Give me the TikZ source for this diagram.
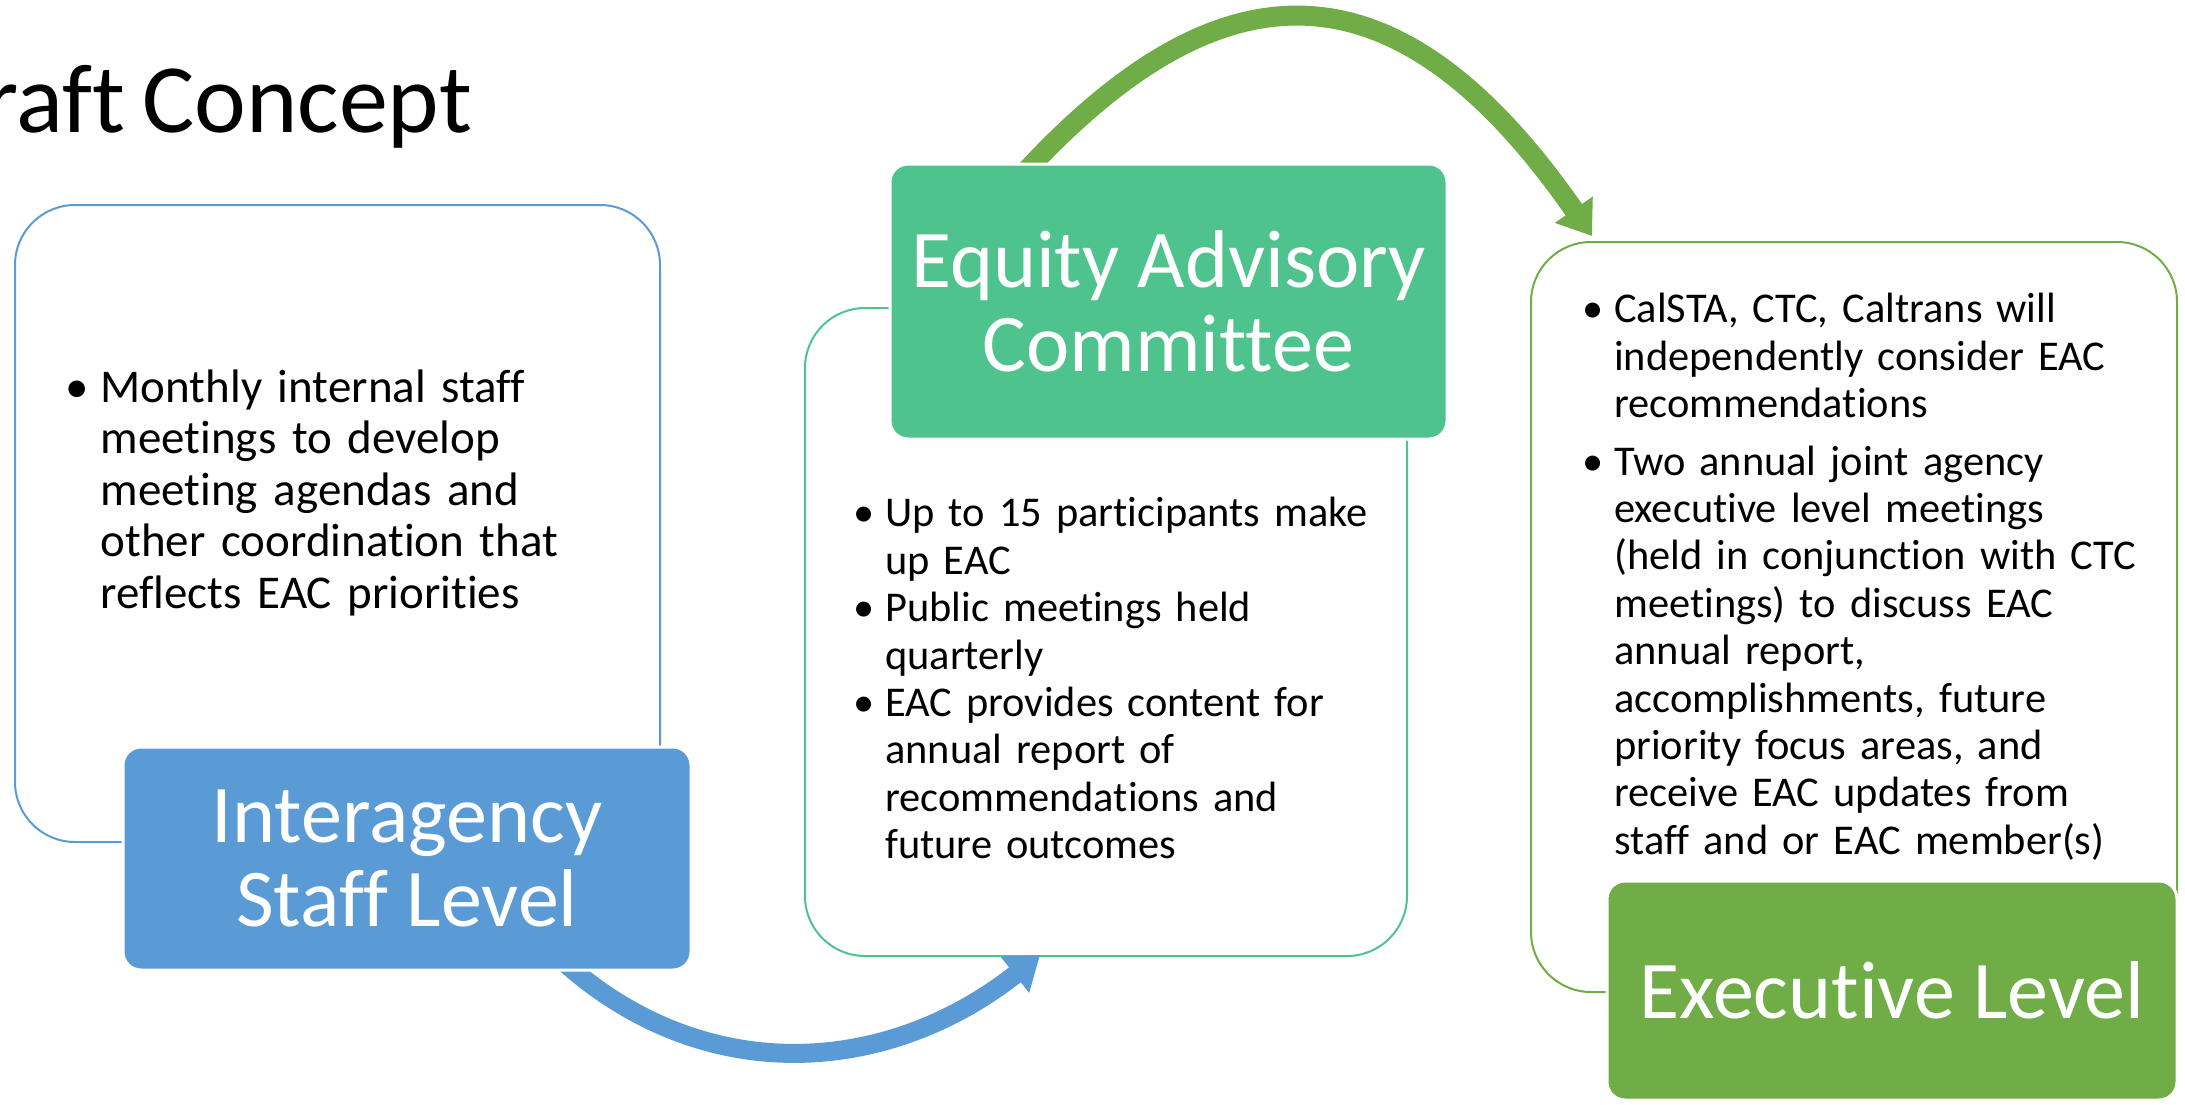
\documentclass[tikz,border=0pt]{standalone}
\usepackage{fontspec}
\setmainfont{Carlito}[Ligatures=CommonOff]
\usetikzlibrary{arrows.meta}
\definecolor{staffblue}{HTML}{5B9BD5}
\definecolor{eacgreen}{HTML}{4FC38D}
\definecolor{execgreen}{HTML}{70AD47}
\newcommand{\bitem}{\par\hangindent=0.75em\hangafter=1\noindent\makebox[0.75em][l]{\textbullet}}
\pgfdeclarelayer{background}
\pgfsetlayers{background,main}

\begin{document}
\begin{tikzpicture}[x=0.5pt,y=-0.5pt]
  \tikzstyle{outline box}=[draw,line width=1pt,rounded corners=30pt,inner sep=0]
  \tikzstyle{level box}=[draw=white,line width=1.5pt,rounded corners=9pt,text=white,align=center,inner sep=0,font=\fontsize{41}{42}\selectfont]
  \tikzstyle{bullet text}=[anchor=north west,text width=300pt,align=left,inner sep=0,font=\fontsize{21.2}{23.7}\selectfont]
  \tikzstyle{level arrow}=[line width=9.5pt,-{Triangle[length=16pt,width=22pt]}]

  \useasboundingbox (0,0) rectangle (2185,1104);

  \node[anchor=base west,inner sep=0,font=\fontsize{49}{60}\selectfont] (title) at (-16,132) {raft\hspace{0.17em}Concept};

  % level boxes
  \node[level box,fill=staffblue,minimum width=284pt,minimum height=111.5pt] (staff) at (407,858.5) {Interagency\\Staff Level};
  \node[level box,fill=eacgreen,minimum width=278.5pt,minimum height=137.5pt] (eac) at (1168.5,301.5) {Equity Advisory\\Committee};
  \node[level box,fill=execgreen,minimum width=285pt,minimum height=109.5pt] (exec) at (1892,990.5) {Executive Level};

  % bullet texts
  \node[bullet text,font=\fontsize{23.5}{25.8}\selectfont] (stafftext) at (65,350) {%
    \bitem Monthly internal staff\newline meetings to develop\newline meeting agendas and\newline other coordination that\newline reflects EAC priorities\par};
  \node[bullet text] (eactext) at (853,479) {%
    \bitem Up to 15 participants make\newline up EAC
    \bitem Public meetings held\newline quarterly
    \bitem EAC provides content for\newline annual report of\newline recommendations and\newline future outcomes\par};
  \node[bullet text] (exectext) at (1582,265) {%
    \setlength{\parskip}{5pt}%
    \bitem CalSTA, CTC, Caltrans will\newline independently consider EAC\newline recommendations
    \bitem Two annual joint agency\newline executive level meetings\newline (held in conjunction with CTC\newline meetings) to discuss EAC\newline annual report,\newline accomplishments, future\newline priority focus areas, and\newline receive EAC updates from\newline staff and or EAC member(s)\par};

  \begin{pgfonlayer}{background}
    \node[outline box,draw=staffblue,minimum width=322.5pt,minimum height=318.5pt] (staffout) at (337.5,523.5) {};
    \node[outline box,draw=eacgreen,minimum width=301pt,minimum height=324pt] (eacout) at (1106,632) {};
    \node[outline box,draw=execgreen,minimum width=323pt,minimum height=375pt] (execout) at (1854,617) {};

    \coordinate (bstart) at ([xshift=76.5pt,yshift=6.5pt]staff.south);
    \coordinate (bend) at ([xshift=-33pt,yshift=1pt]eacout.south);
    \coordinate (gstart) at ([xshift=-74.25pt,yshift=-7.5pt]eac.north);
    \coordinate (gend) at ([xshift=31pt,yshift=2.5pt]execout.north west);

    \draw[level arrow,staffblue] (bstart) .. controls (700,1087) and (884,1078) .. (bend);
    \draw[level arrow,execgreen,line width=10pt] (gstart) .. controls (1213,-34) and (1391,-54) .. (gend);
  \end{pgfonlayer}
\end{tikzpicture}
\end{document}
